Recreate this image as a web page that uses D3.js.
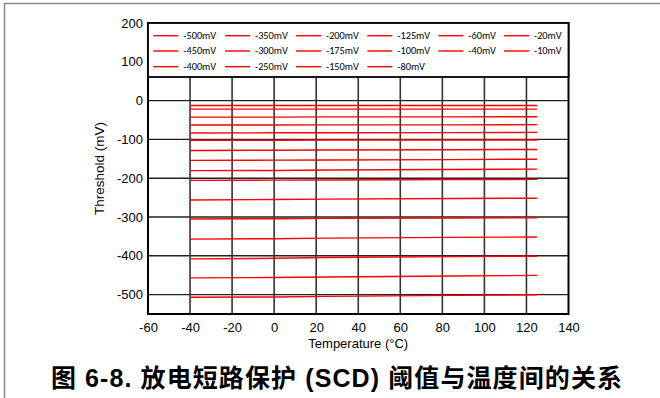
<!DOCTYPE html>
<html>
<head>
<meta charset="utf-8">
<script src="https://cdn.jsdelivr.net/npm/d3@7"></script>
<style>
  html, body { margin: 0; padding: 0; background: #fff; }
  svg { display: block; }
</style>
</head>
<body>
<svg id="chart" width="660" height="398"></svg>
<script>
// Measurement temperatures (°C)
const temperatures = [-40, 0, 25, 85, 125];

// SCD threshold settings, in legend order (row by row)
const settingLabels = [
  "-500mV", "-350mV", "-200mV", "-125mV", "-60mV", "-20mV",
  "-450mV", "-300mV", "-175mV", "-100mV", "-40mV", "-10mV",
  "-400mV", "-250mV", "-150mV", "-80mV"
];

// Measured threshold (mV) for each setting across temperatures
const thr500 = [-507, -506, -504.5, -502, -500.5];
const thr450 = [-457, -456, -454.5, -452, -450.5];
const thr400 = [-408, -406.5, -404.5, -402, -401];
const thr350 = [-357, -356, -354.5, -352.5, -351.5];
const thr300 = [-305, -304.5, -303.5, -302.5, -302];
const thr250 = [-256, -255, -254, -252.5, -251.5];
const thr200 = [-205.5, -205, -204.5, -203.5, -203];
const thr175 = [-180.5, -180, -179, -177.5, -176.5];
const thr150 = [-154, -153.5, -153, -152, -151];
const thr125 = [-128.5, -128, -127.5, -126.5, -126];
const thr100 = [-102, -102, -101.5, -101.5, -101.5];
const thr80  = [-83.5, -83, -83, -82.5, -82];
const thr60  = [-63, -63, -62.5, -62.5, -62];
const thr40  = [-42.5, -42.5, -42, -42, -41.5];
const thr20  = [-22, -22, -22, -22, -22];
const thr10  = [-12.5, -12.5, -12.5, -12.5, -12.5];

const seriesByLabel = {
  "-500mV": thr500, "-450mV": thr450, "-400mV": thr400, "-350mV": thr350,
  "-300mV": thr300, "-250mV": thr250, "-200mV": thr200, "-175mV": thr175,
  "-150mV": thr150, "-125mV": thr125, "-100mV": thr100, "-80mV": thr80,
  "-60mV": thr60, "-40mV": thr40, "-20mV": thr20, "-10mV": thr10
};

// Axis ticks
const xTicks = [-60, -40, -20, 0, 20, 40, 60, 80, 100, 120, 140];
const yTicks = [200, 100, 0, -100, -200, -300, -400, -500];
const xGrid = [-40, -20, 0, 20, 40, 60, 80, 100, 120];
const yGrid = [0, -100, -200, -300, -400, -500];

const svg = d3.select("#chart");
const L = 148, R = 568.5, T = 23, B = 314;
const x = d3.scaleLinear().domain([-60, 140]).range([L, R]);
const y = d3.scaleLinear().domain([200, -550]).range([T, B]);
const font = "'Liberation Sans', Arial, sans-serif";

// Outer page frame
svg.append("path")
  .attr("d", "M4.5,398 L4.5,3.5 L660,3.5")
  .attr("fill", "none").attr("stroke", "#8a8a8a").attr("stroke-width", 1.5);

// Legend box geometry
const legTop = T, legBottom = 77;

// Grid
const grid = svg.append("g");
grid.selectAll("line.h").data(yGrid).join("line")
  .attr("x1", L).attr("x2", R)
  .attr("y1", d => y(d)).attr("y2", d => y(d))
  .attr("stroke", "#222").attr("stroke-width", 1.4);
grid.selectAll("line.v").data(xGrid).join("line")
  .attr("x1", d => x(d)).attr("x2", d => x(d))
  .attr("y1", legBottom).attr("y2", B)
  .attr("stroke", "#333").attr("stroke-width", 1.6);

// Series lines
const line = d3.line().x((d, i) => x(temperatures[i])).y(d => y(d));
const allSeries = settingLabels.map(k => seriesByLabel[k]);
svg.append("g").selectAll("path").data(allSeries).join("path")
  .attr("d", line)
  .attr("fill", "none").attr("stroke", "#ff0000").attr("stroke-width", 1.4);

// Plot frame
svg.append("rect")
  .attr("x", L).attr("y", T).attr("width", R - L).attr("height", B - T)
  .attr("fill", "none").attr("stroke", "#000").attr("stroke-width", 2);

// Legend
svg.append("rect")
  .attr("x", L).attr("y", legTop).attr("width", R - L).attr("height", legBottom - legTop)
  .attr("fill", "#fff").attr("stroke", "#000").attr("stroke-width", 1.8);
const colX = [153.3, 225, 296, 367.3, 438.3, 504];
const rowY = [35.7, 51, 66.7];
const leg = svg.append("g").selectAll("g").data(settingLabels).join("g")
  .attr("transform", (d, i) => `translate(${colX[i % 6]},${rowY[Math.floor(i / 6)]})`);
leg.append("line").attr("x1", 0).attr("x2", 25).attr("y1", 0).attr("y2", 0)
  .attr("stroke", "#ff0000").attr("stroke-width", 1.4);
leg.append("text").attr("x", 30).attr("y", 3.4)
  .attr("font-family", "Carlito, Calibri, 'Open Sans', sans-serif").attr("font-size", 10.3)
  .attr("fill", "#000").text(d => d);

// Axes labels (plain hyphen minus)
const fmt = d => String(d);
const yAxis = d3.axisLeft(y).tickValues(yTicks).tickFormat(fmt).tickSize(0).tickPadding(5);
const gy = svg.append("g").attr("transform", `translate(${L},0)`).call(yAxis);
gy.select(".domain").remove();
gy.selectAll("text").attr("font-family", font).attr("font-size", 13).attr("fill", "#000");

const xAxis = d3.axisBottom(x).tickValues(xTicks).tickFormat(fmt).tickSize(0).tickPadding(9);
const gx = svg.append("g").attr("transform", `translate(0,${B})`).call(xAxis);
gx.select(".domain").remove();
gx.selectAll("text").attr("font-family", font).attr("font-size", 13).attr("fill", "#000");

svg.append("text")
  .attr("x", (L + R) / 2).attr("y", 348)
  .attr("text-anchor", "middle")
  .attr("font-family", font).attr("font-size", 13).attr("fill", "#000")
  .text("Temperature (°C)");

svg.append("text")
  .attr("transform", `translate(104,${(T + B) / 2}) rotate(-90)`)
  .attr("text-anchor", "middle")
  .attr("font-family", font).attr("font-size", 13.5).attr("fill", "#000")
  .text("Threshold (mV)");

// Figure caption
svg.append("text")
  .attr("x", 337).attr("y", 387)
  .attr("text-anchor", "middle")
  .attr("font-family", "'Liberation Sans', 'Noto Sans CJK SC', sans-serif")
  .attr("font-weight", "bold").attr("font-size", 25).attr("letter-spacing", 1.1)
  .attr("fill", "#000")
  .text("图 6-8. 放电短路保护 (SCD) 阈值与温度间的关系");
</script>
</body>
</html>
